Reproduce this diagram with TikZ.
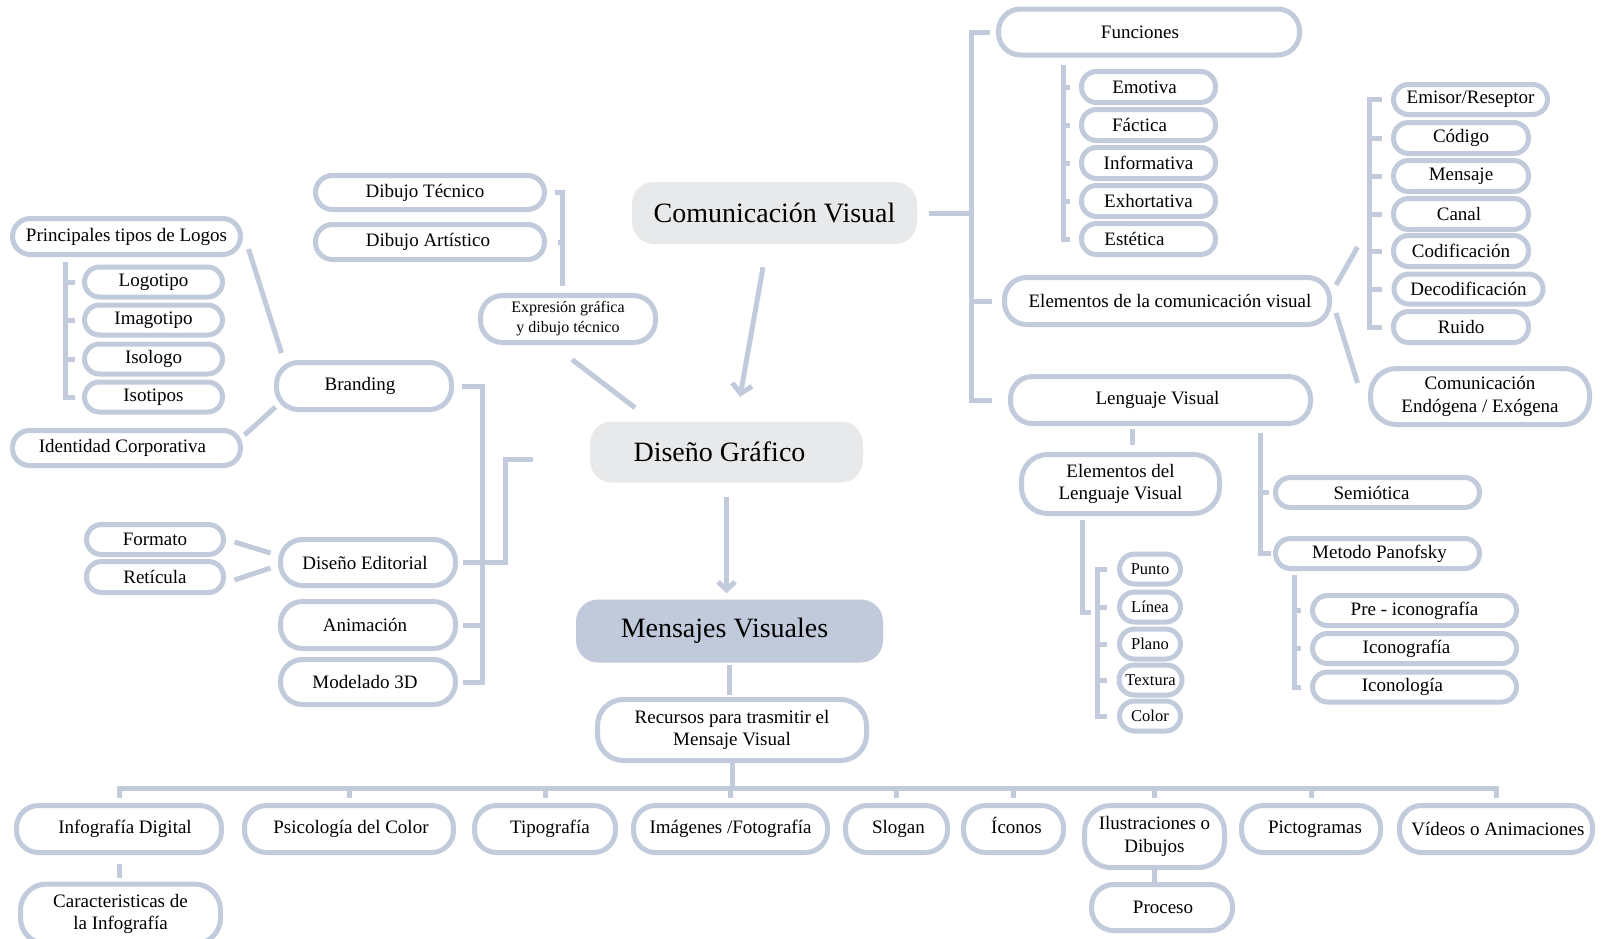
\documentclass[tikz,border=0pt]{standalone}
\usepackage{fontspec}
\setmainfont{Liberation Serif}
\usetikzlibrary{arrows.meta,calc}
\definecolor{lb}{RGB}{193,203,220}
\definecolor{gf}{RGB}{232,233,235}
\definecolor{mf}{RGB}{192,202,219}
\newcommand{\padR}[1]{\hspace*{#1pt}}
\begin{document}
\begin{tikzpicture}[x=1pt,y=-1pt,
  bx/.style={draw=lb, line width=5pt, rounded corners=#1, inner sep=0pt, align=center,
     font=\fontsize{19}{22.5}\selectfont, text=black},
  bx/.default=15pt,
  sz/.style 2 args={minimum width=#1pt, minimum height=#2pt},
  small/.style={font=\fontsize{16.5}{20}\selectfont},
  hub/.style={rounded corners=22pt, inner sep=0pt, font=\fontsize{28}{32}\selectfont, text=black},
  ln/.style={draw=lb, line width=5pt, line join=miter},
  line cap=butt,
]
\fill[white] (0,0) rectangle (1602,938);
\useasboundingbox (0,0) rectangle (1602,938);

% ---------- left: branding ----------
\node[bx=18pt, sz={228}{36}] (logos) at (126.5,236.5) {Principales tipos de Logos};
\node[bx, sz={138}{30}] (logotipo) at (153.5,282) {Logotipo};
\node[bx, sz={138}{30}] (imagotipo) at (153.5,320) {Imagotipo};
\node[bx, sz={138}{30}] (isologo) at (153.5,359) {Isologo};
\node[bx, sz={138}{30}] (isotipos) at (153.5,397) {Isotipos};
\node[bx=17pt, sz={228}{35}] (identidad) at (126.5,448) {Identidad Corporativa\padR{8}};
\node[bx=22pt, sz={175}{47}] (branding) at (364,386) {Branding\padR{8}};
\node[bx=17pt, sz={229}{34}] (dibtec) at (430,192.5) {Dibujo Técnico\padR{10}};
\node[bx=17pt, sz={229}{35}] (dibart) at (430,242) {Dibujo Artístico\padR{4}};
\node[bx=22pt, sz={175}{47}, font=\fontsize{16}{20}\selectfont] (expresion) at (568,319) {Expresión gráfica\\y dibujo técnico};
\node[bx, sz={137}{30}] (formato) at (155,539.5) {Formato};
\node[bx, sz={137}{31}] (reticula) at (155,577) {Retícula};
\node[bx=22pt, sz={175}{46}] (diseditorial) at (368,562.5) {Diseño Editorial\padR{6}};
\node[bx=22pt, sz={175}{47}] (animacion) at (368,625) {Animación\padR{6}};
\node[bx=22pt, sz={175}{45}] (modelado) at (368,682) {Modelado 3D\padR{6}};

% ---------- centre ----------
\node[hub, fill=gf, sz={285}{62}] (comvis) at (774.5,213) {Comunicación Visual};
\node[hub, fill=gf, sz={273}{61}] (disgraf) at (726.5,452) {Diseño Gráfico\padR{14}};
\node[hub, fill=mf, sz={307}{63}] (mensajes) at (729.5,631) {Mensajes Visuales\padR{10}};
\node[bx=26pt, sz={269}{61}] (recursos) at (732,730) {Recursos para trasmitir el\\Mensaje Visual};

% ---------- right ----------
\node[bx=22pt, sz={301}{46}] (funciones) at (1149,32) {Funciones\padR{18}};
\node[bx, sz={134}{31}] (emotiva) at (1148.5,87) {Emotiva\padR{8}};
\node[bx, sz={134}{31}] (factica) at (1148.5,125) {Fáctica\padR{18}};
\node[bx, sz={134}{31}] (informativa) at (1148.5,163) {Informativa};
\node[bx, sz={134}{31}] (exhortativa) at (1148.5,201) {Exhortativa};
\node[bx, sz={134}{31}] (estetica) at (1148.5,239) {Estética\padR{28}};
\node[bx=22pt, sz={325}{47}] (elemcom) at (1167,301) {\padR{6}Elementos de la comunicación visual};
\node[bx=22pt, sz={300}{47}] (lengvis) at (1160.5,400) {Lenguaje Visual\padR{6}};
\node[bx, sz={154}{30}] (emisor) at (1470.5,99.5) {Emisor/Reseptor};
\node[bx, sz={135}{31}] (codigo) at (1461,138) {Código};
\node[bx, sz={135}{31}] (mensaje) at (1461,176) {Mensaje};
\node[bx, sz={135}{31}] (canal) at (1461,214) {Canal\padR{4}};
\node[bx, sz={135}{31}] (codif) at (1461,251) {Codificación};
\node[bx, sz={149}{30}] (decodif) at (1468.5,289) {Decodificación};
\node[bx, sz={135}{31}] (ruido) at (1461,327) {Ruido};
\node[bx=26pt, sz={219}{56}] (comendo) at (1480,396.5) {Comunicación\\Endógena / Exógena};
\node[bx=26pt, sz={198}{59}] (elemleng) at (1120.5,484) {Elementos del\\Lenguaje Visual};
\node[bx, small, sz={61}{30}] (punto) at (1150,569) {Punto};
\node[bx, small, sz={61}{30}] (linea) at (1150,607) {Línea};
\node[bx, small, sz={61}{30}] (plano) at (1150,644) {Plano};
\node[bx, small, sz={63}{30}] (textura) at (1150.5,680) {Textura};
\node[bx, small, sz={61}{30}] (color) at (1150,716) {Color};
\node[bx, sz={204}{30}] (semiotica) at (1377.5,492.5) {Semiótica\padR{12}};
\node[bx, sz={204}{30}] (panofsky) at (1377.5,553.5) {\padR{4}Metodo Panofsky};
\node[bx, sz={204}{30}] (preico) at (1414.5,610.5) {Pre - iconografía};
\node[bx, sz={204}{30}] (iconografia) at (1414.5,648.5) {Iconografía\padR{16}};
\node[bx, sz={204}{30}] (iconologia) at (1414.5,687) {Iconología\padR{24}};

% ---------- bottom ----------
\node[bx=22pt, sz={205}{47}] (infodig) at (119,829) {\padR{12}Infografía Digital};
\node[bx=22pt, sz={209}{47}] (psico) at (349,829) {\padR{4}Psicología del Color};
\node[bx=22pt, sz={141}{47}] (tipo) at (545,829) {\padR{10}Tipografía};
\node[bx=22pt, sz={194}{47}] (imagenes) at (730.5,829) {Imágenes /Fotografía};
\node[bx=22pt, sz={102}{47}] (slogan) at (896.5,829) {\padR{4}Slogan};
\node[bx=22pt, sz={100}{47}, text height=13pt, text depth=4pt] (iconos) at (1013.5,829) {\padR{6}Íconos};
\node[bx=26pt, sz={140}{62}] (ilustr) at (1154.5,836.5) {Ilustraciones o\\Dibujos};
\node[bx=22pt, sz={139}{47}] (picto) at (1311,829) {\padR{8}Pictogramas};
\node[bx=22pt, sz={193}{47}] (videos) at (1496,829) {\padR{4}Vídeos o Animaciones};
\node[bx=26pt, sz={200}{60}] (caract) at (120.5,914) {Caracteristicas de\\la Infografía};
\node[bx=22pt, sz={141}{46}] (proceso) at (1162,907.5) {\padR{2}Proceso};

% ---------- connectors: left ----------
\coordinate (sp7) at (65.5,262);
\draw[ln] (sp7) |- ([xshift=-7.5pt]isotipos.west);
\foreach \n in {logotipo,imagotipo,isologo}
  \draw[ln] (sp7 |- \n.west) -- ([xshift=-7.5pt]\n.west);
\draw[ln] ([shift={(5.5,12.5)}]logos.east) -- ([shift={(7.5,-33)}]branding.west);
\draw[ln] ([shift={(1.5,-13)}]identidad.east) -- ([shift={(1.5,21)}]branding.west);
\coordinate (sp8) at (562,286);
\draw[ln] ([xshift=7.5pt]dibtec.east) -| (sp8);
\draw[ln] ([xshift=10.5pt]dibart.east) -- (sp8 |- dibart.east);
\draw[ln] ([shift={(4,14.5)}]expresion.south) -- ([shift={(-91.5,-13.5)}]disgraf.north);
\coordinate (sp9) at (482,0);
\draw[ln] ([xshift=7.5pt]branding.east) -- (sp9 |- branding.east) -- (sp9 |- modelado.east) -- ([xshift=4.5pt]modelado.east);
\draw[ln] ([xshift=4.5pt]diseditorial.east) -- (sp9 |- diseditorial.east);
\draw[ln] ([xshift=4.5pt]animacion.east) -- (sp9 |- animacion.east);
\coordinate (dg1) at ([shift={(-57,7)}]disgraf.west);
\coordinate (sp10) at (505,0);
\draw[ln] (dg1) -| (sp10 |- diseditorial.east) -- (sp9 |- diseditorial.east);
\draw[ln] ([shift={(8.5,2.5)}]formato.east) -- ([shift={(-7.5,-9.5)}]diseditorial.west);
\draw[ln] ([shift={(8.5,3)}]reticula.east) -- ([shift={(-7.5,5.5)}]diseditorial.west);

% ---------- connectors: centre ----------
\draw[ln, -{Straight Barb[length=9pt,width=20pt]}] ([shift={(-11.5,23)}]comvis.south) -- ([shift={(13.5,-24.5)}]disgraf.north);
\draw[ln, -{Straight Barb[length=8pt,width=17pt]}] ([shift={(0,14.5)}]disgraf.south) -- ([shift={(0,-6)}]disgraf.south |- mensajes.north);
\draw[ln] ([shift={(0,2.5)}]mensajes.south) -- ([shift={(0,-2.5)}]mensajes.south |- recursos.north);
\coordinate (bus) at (0,788);
\draw[ln] (recursos.south) -- (recursos.south |- bus);
\draw[ln] ([shift={(0,-5)}]infodig.north) -- (infodig.north |- bus) -- (videos.north |- bus) -- ([shift={(0,-5)}]videos.north);
\foreach \n in {psico,tipo,imagenes,slogan,iconos,ilustr,picto}
  \draw[ln] (\n.north |- bus) -- ([shift={(0,-5)}]\n.north);
\draw[ln] ([shift={(0,9)}]infodig.south) -- ([shift={(0,-4)}]infodig.south |- caract.north);
\draw[ln] (ilustr.south) -- (ilustr.south |- proceso.north);

% ---------- connectors: right ----------
\coordinate (sp1) at (971,0);
\draw[ln] ([xshift=12pt]comvis.east) -- (sp1 |- comvis.east);
\draw[ln] ([xshift=-6.5pt]funciones.west) -- (sp1 |- funciones.west) -- (sp1 |- lengvis.west) -- ([xshift=-16.5pt]lengvis.west);
\draw[ln] (sp1 |- elemcom.west) -- ([xshift=-10.5pt]elemcom.west);
\coordinate (sp2) at (1063,65);
\draw[ln] (sp2) |- ([xshift=-9.5pt]estetica.west);
\foreach \n in {emotiva,factica,informativa,exhortativa}
  \draw[ln] (sp2 |- \n.west) -- ([xshift=-9.5pt]\n.west);
\draw[ln] ([shift={(4,-16)}]elemcom.east) -- ([shift={(-33.5,-4)}]codif.west);
\draw[ln] ([shift={(4,12)}]elemcom.east) -- ([shift={(-10.5,-13.5)}]comendo.west);
\coordinate (sp3) at (1369,0);
\draw[ln] ([xshift=-9.5pt]emisor.west) -- (sp3 |- emisor.west) -- (sp3 |- ruido.west) -- ([xshift=-9.5pt]ruido.west);
\foreach \n in {codigo,mensaje,canal,codif,decodif}
  \draw[ln] (sp3 |- \n.west) -- ([xshift=-9.5pt]\n.west);
\draw[ln] ([shift={(-28.5,2.5)}]lengvis.south) -- ([shift={(-28.5,-7.5)}]lengvis.south |- elemleng.north);
\coordinate (sp4) at (1260,433);
\draw[ln] (sp4) |- ([xshift=-2.5pt]panofsky.west);
\draw[ln] (sp4 |- semiotica.west) -- ([xshift=-4.5pt]semiotica.west);
\coordinate (sp5) at (1294,575);
\draw[ln] (sp5) |- ([xshift=-9pt]iconologia.west);
\foreach \n in {preico,iconografia}
  \draw[ln] (sp5 |- \n.west) -- ([xshift=-9pt]\n.west);
\coordinate (el1) at (1091,612);
\draw[ln] ([shift={(-38.5,3.5)}]elemleng.south) |- (el1);
\coordinate (sp6) at (1097.5,0);
\draw[ln] ([xshift=-10pt]punto.west) -- (sp6 |- punto.west) -- (sp6 |- color.west) -- ([xshift=-10pt]color.west);
\foreach \n in {linea,plano,textura}
  \draw[ln] (sp6 |- \n.west) -- ([xshift=-10pt]\n.west);
\end{tikzpicture}
\end{document}
